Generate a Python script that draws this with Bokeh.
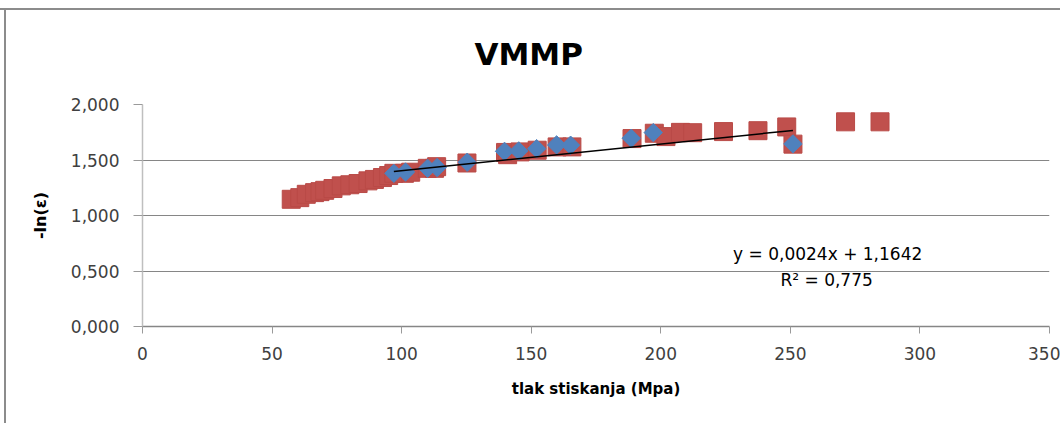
import numpy as np
from bokeh.plotting import figure
from bokeh.models import Range1d, Label, FixedTicker
from bokeh.embed import file_html
from bokeh.resources import INLINE

# ---- data ----
red_x = [57.4, 60.7, 63.2, 66.4, 68.5, 70.3, 73.5, 76.7, 80.0, 83.2, 87.0, 89.5,
         92.6, 95.0, 97.0, 101.1, 103.5, 109.9, 112.7, 113.5, 125.2, 140.1, 140.9,
         145.7, 152.3, 160.0, 165.7, 188.9, 197.5, 202.0, 207.6, 212.3, 224.2,
         237.5, 248.6, 251.0, 271.3, 284.6]
red_y = [1.146, 1.161, 1.191, 1.206, 1.215, 1.227, 1.243, 1.267, 1.277, 1.288, 1.312, 1.325,
         1.342, 1.360, 1.380, 1.380, 1.390, 1.425, 1.425, 1.440, 1.473, 1.568, 1.548,
         1.573, 1.588, 1.618, 1.618, 1.693, 1.741, 1.711, 1.749, 1.746, 1.756,
         1.764, 1.798, 1.643, 1.844, 1.844]

blue_x = [97.0, 101.5, 110.0, 113.7, 125.3, 139.7, 145.2, 152.1, 159.8, 165.2, 188.6, 197.1, 251.0]
blue_y = [1.380, 1.392, 1.425, 1.432, 1.480, 1.578, 1.582, 1.602, 1.636, 1.633, 1.696, 1.747, 1.645]

trend_slope = 0.0024
trend_intercept = 1.1642
trend_label = "y = 0,0024x + 1,1642"
r2_label = "R² = 0,775"

title_text = "VMMP"
x_title = "tlak stiskanja (Mpa)"
y_title = "-ln(ε)"
x_ticks = [0, 50, 100, 150, 200, 250, 300, 350]
y_ticks = [0.0, 0.5, 1.0, 1.5, 2.0]
y_tick_labels = ["0,000", "0,500", "1,000", "1,500", "2,000"]

FONT = "DejaVu Sans"

p = figure(width=1060, height=423, output_backend="svg", toolbar_location=None,
           x_range=Range1d(0, 350), y_range=Range1d(0, 2),
           min_border_left=142, min_border_right=11, min_border_top=60, min_border_bottom=97,
           background_fill_color="white", border_fill_color=None, outline_line_color=None)
# chart-area frame lines (top and left) drawn behind the transparent canvas border
p.styles = {"background": "linear-gradient(#8c8c8c, #8c8c8c) 0px 8px / 100% 2px no-repeat, "
                          "linear-gradient(#8c8c8c, #8c8c8c) 4px 8px / 2px 100% no-repeat, white"}

# title
p.title.text = title_text
p.title.align = "left"
p.title.text_font = FONT
p.title.text_font_size = "31px"
p.title.text_font_style = "bold"
p.title.text_color = "black"
p.title.standoff = 66
p.title.offset = 332

# axes
p.xaxis.ticker = FixedTicker(ticks=x_ticks)
p.yaxis.ticker = FixedTicker(ticks=y_ticks)
p.yaxis.major_label_overrides = {t: l for t, l in zip(y_ticks, y_tick_labels)}
for ax in (p.xaxis[0], p.yaxis[0]):
    ax.axis_line_color = "#BFBFBF"
    ax.axis_line_width = 1.5
    ax.major_tick_line_color = "#9a9a9a"
    ax.minor_tick_line_color = None
    ax.major_tick_in = 0
    ax.major_label_text_font = FONT
    ax.major_label_text_font_size = "17px"
    ax.major_label_text_color = "#404040"
    ax.axis_label_text_font = FONT
    ax.axis_label_text_font_size = "15px"
    ax.axis_label_text_font_style = "bold"
    ax.axis_label_text_color = "black"
p.yaxis.major_tick_out = 9
p.yaxis.major_label_standoff = 14
p.yaxis.axis_label = y_title
p.yaxis.axis_label_text_font_size = "16px"
p.yaxis.axis_label_standoff = 18
p.xaxis.major_tick_out = 7
p.xaxis.major_label_standoff = 13
p.xaxis.axis_label = x_title
p.xaxis.axis_label_standoff = 17
p.xaxis.axis_line_color = "#868686"

p.xgrid.grid_line_color = None
p.ygrid.grid_line_color = "#868686"
p.ygrid.grid_line_width = 1.2

# series
p.scatter(red_x, red_y, marker="square", size=18, fill_color="#C0504D",
          line_color="#B94A47", line_width=1)
p.scatter(blue_x, blue_y, marker="square", angle=np.pi / 4, size=13,
          fill_color="#4F81BD", line_color="#4F81BD", line_width=1)

tx = [min(blue_x), max(blue_x)]
ty = [trend_slope * v + trend_intercept for v in tx]
p.line(tx, ty, line_color="black", line_width=1.5)

p.add_layout(Label(x=264.4, y=0.651, text=trend_label, text_align="center",
                   text_baseline="middle", text_font=FONT, text_font_size="17px",
                   text_color="black"))
p.add_layout(Label(x=264.0, y=0.416, text=r2_label, text_align="center",
                   text_baseline="middle", text_font=FONT, text_font_size="17px",
                   text_color="black"))

open("out.html", "w").write(file_html(p, INLINE))
